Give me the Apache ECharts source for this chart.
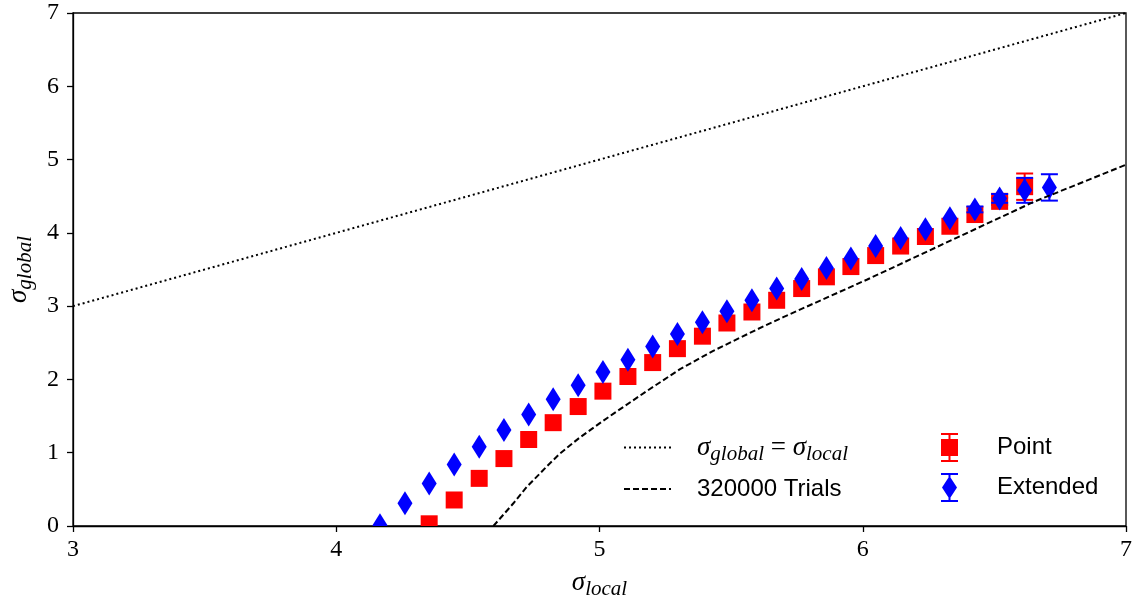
<!DOCTYPE html>
<html>
<head>
    <meta charset="utf-8">
    <title>Global vs local significance</title>
    <script src="https://cdn.jsdelivr.net/npm/echarts@6/dist/echarts.min.js"></script>
</head>
<body style="margin:0">
    <div id="chart" style="width: 1136px; height: 598px;"></div>

    <script>
        // values
        const extX = [4.166, 4.261, 4.353, 4.448, 4.543, 4.637, 4.731, 4.824, 4.919, 5.013,
                      5.108, 5.202, 5.296, 5.391, 5.484, 5.579, 5.673, 5.768, 5.862, 5.955,
                      6.049, 6.144, 6.238, 6.331, 6.426, 6.520, 6.615, 6.709];
        const extY = [0.01, 0.31, 0.58, 0.84, 1.08, 1.31, 1.52, 1.73, 1.92, 2.10,
                      2.27, 2.45, 2.62, 2.78, 2.93, 3.08, 3.24, 3.37, 3.52, 3.65,
                      3.82, 3.93, 4.05, 4.20, 4.32, 4.47, 4.58, 4.62];
        const extErr = [0, 0, 0, 0, 0, 0, 0, 0, 0, 0,
                        0, 0, 0, 0, 0, 0, 0, 0, 0, 0,
                        0, 0, 0, 0, 0.04, 0.06, 0.17, 0.18];

        const pointX = [4.353, 4.448, 4.543, 4.637, 4.731, 4.824, 4.919, 5.013, 5.108, 5.202,
                        5.296, 5.391, 5.484, 5.579, 5.673, 5.768, 5.862, 5.955, 6.049, 6.144,
                        6.238, 6.331, 6.426, 6.520, 6.615];
        const pointY = [0.03, 0.355, 0.65, 0.92, 1.18, 1.41, 1.63, 1.84, 2.04, 2.23,
                        2.42, 2.59, 2.77, 2.92, 3.08, 3.24, 3.40, 3.54, 3.69, 3.82,
                        3.95, 4.09, 4.25, 4.43, 4.63];
        const pointErr = [0, 0, 0, 0, 0, 0, 0, 0, 0, 0,
                          0, 0, 0, 0, 0, 0, 0, 0, 0, 0,
                          0, 0, 0, 0.05, 0.18];

        const eqX = [3, 7];
        const eqY = [3, 7];

        const trialsX = [4.597, 4.673, 4.723, 4.799, 4.850, 4.926, 5.000, 5.052, 5.179, 5.306,
                         5.432, 5.597, 5.698, 6.015, 6.331, 6.648, 7.000];
        const trialsY = [0.00, 0.31, 0.53, 0.81, 0.99, 1.21, 1.40, 1.53, 1.84, 2.14,
                         2.39, 2.68, 2.85, 3.36, 3.89, 4.42, 4.93];

        const xTicks = [3, 4, 5, 6, 7];
        const yTicks = [0, 1, 2, 3, 4, 5, 6, 7];

        const EQ_NAME = 'σglobal = σlocal';
        const TRIALS_NAME = '320000 Trials';

        const zip = (a, b, c) => a.map((v, i) => c ? [v, b[i], c[i]] : [v, b[i]]);

        const serif = 'Liberation Serif';
        const sans = 'Liberation Sans';
        const mathRich = {
            s: { fontFamily: serif, fontStyle: 'italic', fontSize: 27, color: '#000', verticalAlign: 'middle', lineHeight: 34 },
            sub: { fontFamily: serif, fontStyle: 'italic', fontSize: 21, color: '#000', verticalAlign: 'bottom', lineHeight: 22 },
            e: { fontFamily: serif, fontSize: 27, color: '#000', verticalAlign: 'middle', lineHeight: 34 }
        };

        // errorbar + marker drawn together, clipped to the plot like matplotlib
        function errMarker(kind) {
            return function (params, api) {
                const x = api.value(0), y = api.value(1), err = api.value(2);
                const c = api.coord([x, y]);
                const color = api.visual('color');
                const kids = [];
                if (err > 0) {
                    const lo = api.coord([x, y - err]);
                    const hi = api.coord([x, y + err]);
                    const ls = { stroke: color, lineWidth: 2 };
                    kids.push({ type: 'line', shape: { x1: c[0], y1: lo[1], x2: c[0], y2: hi[1] }, style: ls });
                    kids.push({ type: 'line', shape: { x1: c[0] - 8.5, y1: lo[1], x2: c[0] + 8.5, y2: lo[1] }, style: ls });
                    kids.push({ type: 'line', shape: { x1: c[0] - 8.5, y1: hi[1], x2: c[0] + 8.5, y2: hi[1] }, style: ls });
                }
                if (kind === 'rect') {
                    kids.push({ type: 'rect', shape: { x: c[0] - 8.5, y: c[1] - 8.5, width: 17, height: 17 }, style: { fill: color } });
                } else {
                    kids.push({ type: 'polygon', shape: { points: [[c[0], c[1] - 12], [c[0] + 7.5, c[1]], [c[0], c[1] + 12], [c[0] - 7.5, c[1]]] }, style: { fill: color } });
                }
                return { type: 'group', children: kids };
            };
        }

        const pointIcon = 'path://M0 0H17V2H0Z M7.5 2H9.5V27H7.5Z M0 6H17V23H0Z M0 27H17V29H0Z';
        const extIcon = 'path://M0 0H17V2H0Z M7.5 2H9.5V27H7.5Z M8.5 3L16 14.5L8.5 26L1 14.5Z M0 27H17V29H0Z';

        const chart = echarts.init(document.getElementById('chart'));

        const option = {
            animation: false,
            grid: { left: 73, right: 10, top: 13, bottom: 72, show: true, borderColor: '#000', borderWidth: 1.3,
                    containLabel: false, outerBoundsMode: 'none' },
            xAxis: {
                type: 'value', min: 3, max: 7, interval: 1,
                name: '{s|σ}{sub|local}',
                nameLocation: 'middle', nameGap: 40,
                nameTextStyle: { rich: mathRich },
                axisLine: { lineStyle: { color: '#000', width: 1.3 } },
                axisTick: { length: 6, lineStyle: { color: '#000', width: 1.3 } },
                axisLabel: { margin: 12, fontFamily: serif, fontSize: 24, color: '#000',
                             formatter: v => xTicks.includes(v) ? String(v) : '' },
                splitLine: { show: false }
            },
            yAxis: {
                type: 'value', min: 0, max: 7, interval: 1,
                name: '{s|σ}{sub|global}',
                nameLocation: 'middle', nameGap: 36, nameRotate: 90,
                nameTextStyle: { rich: mathRich },
                axisLine: { lineStyle: { color: '#000', width: 1.3 } },
                axisTick: { length: 6, lineStyle: { color: '#000', width: 1.3 } },
                axisLabel: { margin: 14, fontFamily: serif, fontSize: 24, color: '#000',
                             formatter: v => yTicks.includes(v) ? String(v) : '' },
                splitLine: { show: false }
            },
            legend: [
                {
                    data: [EQ_NAME], left: 618, top: 429, itemWidth: 47, itemHeight: 14,
                    itemStyle: { opacity: 0 },
                    formatter: () => '{s|σ}{sub|global}{e| = }{s|σ}{sub|local}',
                    textStyle: { padding: [0, 0, 0, 21], rich: mathRich }
                },
                {
                    data: [TRIALS_NAME], left: 618, top: 472, itemWidth: 47, itemHeight: 14,
                    itemStyle: { opacity: 0 },
                    textStyle: { fontFamily: sans, fontSize: 24, color: '#000', padding: [0, 0, 0, 21] }
                },
                {
                    data: [{ name: 'Point', icon: pointIcon }], left: 936, top: 428, itemWidth: 17, itemHeight: 29,
                    textStyle: { fontFamily: sans, fontSize: 24, color: '#000', padding: [0, 0, 0, 34] }
                },
                {
                    data: [{ name: 'Extended', icon: extIcon }], left: 936, top: 468, itemWidth: 17, itemHeight: 29,
                    textStyle: { fontFamily: sans, fontSize: 24, color: '#000', padding: [0, 0, 0, 34] }
                }
            ],
            series: [
                {
                    name: EQ_NAME, type: 'line', data: zip(eqX, eqY), symbol: 'none',
                    lineStyle: { color: '#000', width: 2, type: [2, 3] }, itemStyle: { color: '#000' }
                },
                {
                    name: TRIALS_NAME, type: 'line', data: zip(trialsX, trialsY), symbol: 'none',
                    lineStyle: { color: '#000', width: 2, type: [6, 3] }, itemStyle: { color: '#000' }
                },
                {
                    name: 'Point', type: 'custom', clip: true, renderItem: errMarker('rect'),
                    itemStyle: { color: '#ff0000' },
                    encode: { x: 0, y: 1 },
                    data: zip(pointX, pointY, pointErr)
                },
                {
                    name: 'Extended', type: 'custom', clip: true, renderItem: errMarker('diamond'),
                    itemStyle: { color: '#0000ff' },
                    encode: { x: 0, y: 1 },
                    data: zip(extX, extY, extErr)
                }
            ]
        };

        chart.setOption(option);
    </script>
</body>
</html>
